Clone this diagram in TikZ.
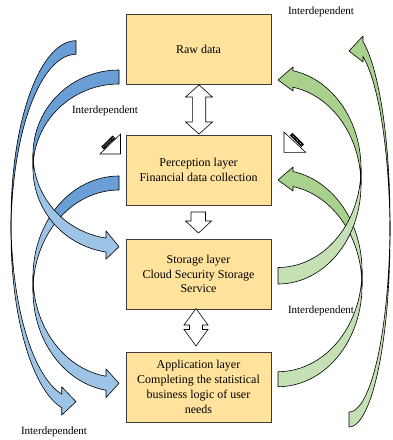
\documentclass[tikz,border=0pt]{standalone}
\usepackage{fontspec}
\setmainfont{Liberation Serif}
\usetikzlibrary{calc}
\definecolor{boxfill}{HTML}{FFE29C}
\definecolor{boxline}{HTML}{3C3C3C}
\definecolor{bluedark}{HTML}{6A9FD6}
\definecolor{bluelight}{HTML}{9DC3E6}
\definecolor{greendark}{HTML}{A9D18E}
\definecolor{greenlight}{HTML}{C5E0B4}
\tikzset{
  layerbox/.style={draw=boxline, line width=0.8pt, fill=boxfill, minimum width=145, minimum height=70, align=center, inner sep=0pt, font=\fontsize{12}{14.8}\selectfont},
  lbl/.style={inner sep=0pt, font=\fontsize{11}{13}\selectfont},
  ribbonline/.style={draw=black, line width=0.6pt, line join=round},
  blockarrow/.style={draw=black, fill=white, line width=0.6pt, line join=miter}
}
% band part between the two ellipses for parameter angles #4..#5
\newcommand{\rbPart}[6]{%
  \fill[#6] plot[variable=\t, domain=#4:#5, samples=40] ({#1*cos(\t)},{#2+#2*sin(\t)}) -- plot[variable=\t, domain=#5:#4, samples=40] ({#1*cos(\t)},{#2+#3+#2*sin(\t)}) -- cycle;}
% #1 w, #2 hR, #3 th, #4 aw, #5 ah, #6 tip v, #7 tail band colour, #8 head band colour, #9 extra fills
\newcommand{\ribbon}[9]{%
  \pgfmathsetmacro{\rbA}{acos(#5/#1)}%
  \pgfmathsetmacro{\rbVf}{#2+#2*sin(\rbA)}%
  \pgfmathsetmacro{\rbVs}{\rbVf+#3}%
  \pgfmathsetmacro{\rbDh}{(#4-#3)/2}%
  \rbPart{#1}{#2}{#3}{-90}{0}{#7}%
  \fill[#8] plot[variable=\t, domain=0:\rbA, samples=45] ({#1*cos(\t)},{#2+#2*sin(\t)}) -- (#5,{\rbVf-\rbDh}) -- (0,#6) -- (#5,{\rbVs+\rbDh}) -- (#5,\rbVs) -- plot[variable=\t, domain=\rbA:0, samples=45] ({#1*cos(\t)},{#2+#3+#2*sin(\t)}) -- cycle;
  #9%
  \draw[ribbonline] plot[variable=\t, domain=-90:0, samples=45] ({#1*cos(\t)},{#2+#2*sin(\t)}) -- plot[variable=\t, domain=0:-90, samples=45] ({#1*cos(\t)},{#2+#3+#2*sin(\t)}) -- cycle;
  \draw[ribbonline] plot[variable=\t, domain=0:\rbA, samples=45] ({#1*cos(\t)},{#2+#2*sin(\t)}) -- (#5,{\rbVf-\rbDh}) -- (0,#6) -- (#5,{\rbVs+\rbDh}) -- (#5,\rbVs) -- plot[variable=\t, domain=\rbA:0, samples=45] ({#1*cos(\t)},{#2+#3+#2*sin(\t)}) -- cycle;
}
% #1 cx, #2 top tip y, #3 bottom tip y, #4 head half width, #5 shaft half width, #6 head length
\newcommand{\dblarrow}[6]{%
  \draw[blockarrow] (#1,#2) -- ({#1+#4},{#2+#6}) -- ({#1+#5},{#2+#6}) -- ({#1+#5},{#3-#6}) -- ({#1+#4},{#3-#6}) -- (#1,#3) -- ({#1-#4},{#3-#6}) -- ({#1-#5},{#3-#6}) -- ({#1-#5},{#2+#6}) -- ({#1-#4},{#2+#6}) -- cycle;
}
\begin{document}
\begin{tikzpicture}[x=1pt, y=-1pt]
\useasboundingbox (0,0) rectangle (392,440);

% layer boxes
\node[layerbox] (raw) at (198.5,49) {Raw data};
\node[layerbox] (perc) at (198.5,170) {Perception layer\\Financial data collection};
\node[layerbox] (stor) at (198.5,274) {Storage layer\\Cloud Security Storage\\Service};
\node[layerbox] (app) at (198.5,387) {Application layer\\Completing the statistical\\business logic of user\\needs};

% block arrows between layers
\dblarrow{199}{85}{134}{13.5}{6.7}{12}
\draw[blockarrow] (191,212) -- (205.5,212) -- (205.5,221) -- (211.5,221) -- (198.5,233) -- (185.5,221) -- (191,221) -- cycle;
\dblarrow{196}{308.5}{346}{12}{6.5}{16.5}

% blue curved arrows (left)
\begin{scope}[shift={(76,40.7)}, xscale=-1]
  \ribbon{65}{178.9}{13.6}{28.3}{14.3}{361}{bluedark}{bluelight}{}
\end{scope}
\begin{scope}[shift={(119,176)}, xscale=-1]
  \ribbon{86}{100.7}{14}{28.7}{13}{207.3}{bluelight}{bluelight}{\rbPart{86}{100.7}{14}{-90}{-41.4}{bluedark}}
\end{scope}
\begin{scope}[shift={(119,70)}, xscale=-1]
  \ribbon{86}{84.5}{14}{28.4}{13}{176.7}{bluedark}{bluelight}{}
\end{scope}

% green curved arrows (right)
\begin{scope}[shift={(349,427)}, yscale=-1]
  \ribbon{41}{191}{15}{26}{14}{376}{greenlight}{greendark}{}
\end{scope}
\begin{scope}[shift={(278,386.7)}, yscale=-1]
  \ribbon{84}{100.9}{15}{24}{15}{206.7}{greenlight}{greendark}{\rbPart{84}{100.9}{15}{0}{31}{greenlight}}
\end{scope}
\begin{scope}[shift={(278,284)}, yscale=-1]
  \ribbon{83}{99.2}{16.5}{24}{15}{204}{greenlight}{greendark}{}
\end{scope}

% drafting icons
\draw[line width=0.6pt, fill=white] (100,154) -- (120.5,134) -- (120.5,154) -- cycle;
\draw[line width=3.6pt] (102.5,148) -- (114,136.8);
\draw[white, line width=0.5pt, dash pattern=on 1pt off 1pt] (103,147.3) -- (113.5,137.3);
\draw[line width=0.6pt, fill=white] (284,132) -- (284,152.3) -- (305.7,152.3) -- cycle;
\draw[line width=3.6pt] (291,134) -- (302.7,145.7);
\draw[white, line width=0.5pt, dash pattern=on 1pt off 1pt] (291.7,134.5) -- (302,145);

% labels
\node[lbl] (lab1) at (321,12) {Interdependent};
\node[lbl] (lab2) at (105,111) {Interdependent};
\node[lbl] (lab3) at (321,311) {Interdependent};
\node[lbl] (lab4) at (54,432) {Interdependent};
\end{tikzpicture}
\end{document}
